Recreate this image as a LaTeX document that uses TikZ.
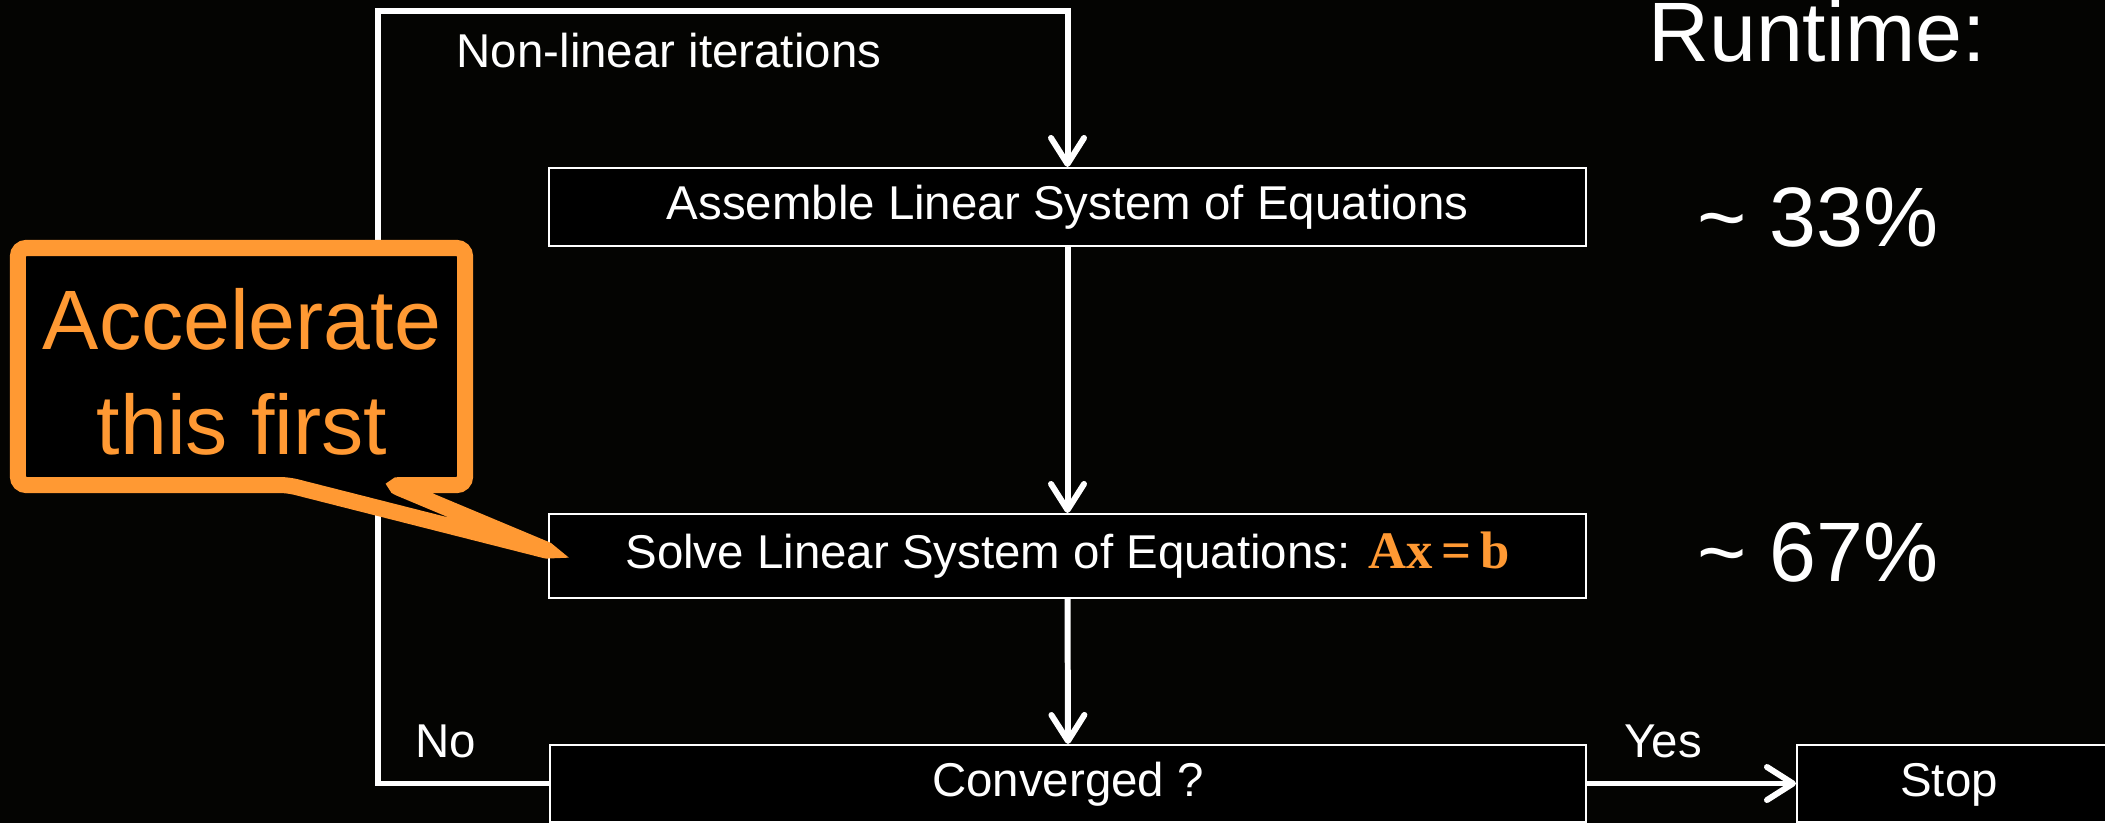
\documentclass[tikz,border=0pt]{standalone}
\usepackage{fontspec}
\setmainfont{Liberation Sans}
\newfontfamily\eqfont{Liberation Serif}
\usepackage{xcolor}
\usetikzlibrary{arrows.meta, positioning}
\definecolor{calloutorange}{RGB}{255,153,51}
\definecolor{slidebg}{RGB}{4,4,2}

\begin{document}
\begin{tikzpicture}[
  stepbox/.style={draw=white, line width=0.6pt, fill=black, text=white, inner sep=0pt, text height=0.92em, text depth=0.2em, font=\fontsize{13.5}{16}\selectfont},
  flow/.style={white, line width=1.7pt, line join=miter},
  arrow/.style={flow, -{Straight Barb[length=2.6mm, width=3.3mm, round]}},
  note/.style={text=white, inner sep=0pt, font=\fontsize{13.5}{16}\selectfont},
  runtxt/.style={text=white, inner sep=0pt, font=\fontsize{24}{29}\selectfont},
  callouttxt/.style={text=calloutorange, inner sep=0pt, align=center, font=\fontsize{24}{29.8}\selectfont}
]
\useasboundingbox (0,0) rectangle (21.05,-8.23);
\fill[slidebg] (0,0) rectangle (21.05,-8.23);

\node[stepbox, minimum width=10.37cm, minimum height=0.78cm] (assemble) at (10.675,-2.07) {Assemble Linear System of Equations};
\node[stepbox, minimum width=10.37cm, minimum height=0.84cm] (solve) at (10.675,-5.56) {Solve Linear System of Equations: {\color{calloutorange}\eqfont\bfseries\fontsize{15}{16}\selectfont Ax\,=\,b}};
\node[stepbox, minimum width=10.36cm, minimum height=0.77cm] (conv) at (10.68,-7.835) {Converged ?};
\node[stepbox, minimum width=3.2cm, minimum height=0.77cm] (stop) at (19.57,-7.835) {\hspace*{-0.16cm}Stop};

\coordinate (loopbl) at (3.78,-7.835);
\coordinate (looptl) at (3.78,-0.11);

\draw[arrow] (assemble) -- (solve);
\draw[arrow] (solve.south) -- (conv.north);
\draw[arrow] (conv) -- (stop);
\draw[arrow] (conv.west) -- (loopbl) -- (looptl) -| (assemble.north);

\node[note, anchor=base] (nonlin) at (6.69,-0.68) {Non-linear iterations};
\node[note, anchor=base] (no) at (4.46,-7.57) {No};
\node[note, anchor=base] (yes) at (16.63,-7.57) {Yes};

\node[runtxt, anchor=base] (runtime) at (18.17,-0.62) {Runtime:};
\node[runtxt, anchor=base] (share1) at (18.18,-2.46) {\textasciitilde{} 33\%};
\node[runtxt, anchor=base] (share2) at (18.18,-5.81) {\textasciitilde{} 67\%};

\draw[calloutorange, line width=0.16cm, fill=black, rounded corners=0.8mm]
  (0.18,-2.48) -- (4.65,-2.48) -- (4.65,-4.85) -- (3.92,-4.85)
  -- (5.52,-5.52) -- (2.88,-4.85) -- (0.18,-4.85) -- cycle;
\node[callouttxt] (accel) at (2.42,-3.72) {Accelerate\\this first};
\end{tikzpicture}
\end{document}
